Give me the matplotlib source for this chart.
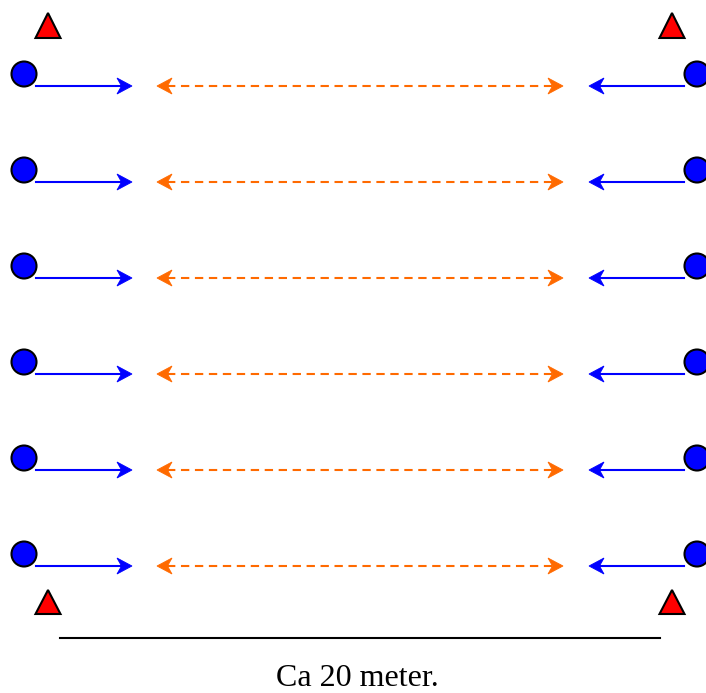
import matplotlib
matplotlib.use("Agg")
import matplotlib.pyplot as plt
from matplotlib.patches import Circle, Polygon

W, H = 706, 693
row_y = [74, 170, 266, 362, 458, 554]       # circle centre rows
arrow_dy = 12
left_x, right_x = 24, 697
blue_left = (36, 132)
blue_right = (684, 589)
orange_span = (157, 563)
tri_x = [48, 672]
tri_rows = [(13, 38), (590, 614)]
scale_line = (60, 660, 638)
label = "Ca 20 meter."

fig = plt.figure(figsize=(W / 100, H / 100), dpi=100)
ax = fig.add_axes([0, 0, 1, 1])
ax.set_xlim(0, W)
ax.set_ylim(H, 0)
ax.axis("off")

def head(x_tip, y, direction, color, L=15, w=8, notch=4.5):
    d = direction
    pts = [(x_tip, y), (x_tip - d * L, y - w), (x_tip - d * (L - notch), y), (x_tip - d * L, y + w)]
    ax.add_patch(Polygon(pts, closed=True, facecolor=color, edgecolor=color, lw=0.6, zorder=3))

blue = "#0000ff"
orange = "#ff6a00"
for y in row_y:
    ya = y + arrow_dy
    ax.add_patch(Circle((left_x, y), 12.5, facecolor=blue, edgecolor="black", lw=1.5, zorder=4))
    ax.add_patch(Circle((right_x, y), 12.5, facecolor=blue, edgecolor="black", lw=1.5, zorder=4))
    # blue right arrow
    ax.plot([blue_left[0], blue_left[1] - 10], [ya, ya], color=blue, lw=1.5)
    head(blue_left[1], ya, 1, blue)
    # blue left arrow
    ax.plot([blue_right[0], blue_right[1] + 10], [ya, ya], color=blue, lw=1.5)
    head(blue_right[1], ya, -1, blue)
    # orange dashed double arrow
    ax.plot([orange_span[0] + 10, orange_span[1] - 10], [ya, ya], color=orange, lw=1.5,
            dashes=(4, 2.7))
    head(orange_span[0], ya, -1, orange)
    head(orange_span[1], ya, 1, orange)

for (yt, yb) in tri_rows:
    for x in tri_x:
        ax.add_patch(Polygon([(x, yt), (x - 12.5, yb), (x + 12.5, yb)], closed=True,
                             facecolor="#ff0000", edgecolor="black", lw=1.5, zorder=4))

ax.plot([scale_line[0], scale_line[1]], [scale_line[2], scale_line[2]], color="black", lw=1.5)
ax.text(357, 686, label, ha="center", va="baseline", fontsize=23, family="Liberation Serif")

fig.savefig("out.png", dpi=100)
